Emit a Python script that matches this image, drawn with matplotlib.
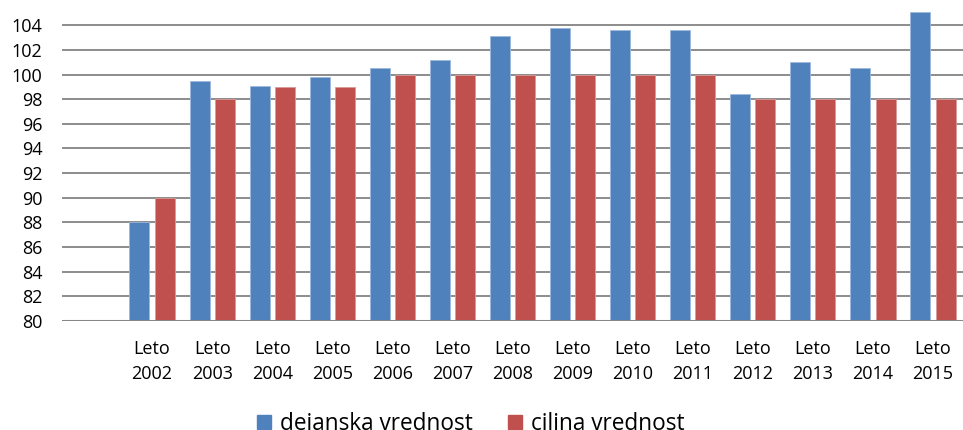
import matplotlib
matplotlib.use("Agg")
import matplotlib.pyplot as plt
from matplotlib.patches import Patch
import numpy as np

years = [2002, 2003, 2004, 2005, 2006, 2007, 2008, 2009, 2010, 2011, 2012, 2013, 2014, 2015]
dejanska = [88.0, 99.5, 99.1, 99.8, 100.5, 101.2, 103.1, 103.8, 103.6, 103.6, 98.4, 101.0, 100.5, 105.1]
ciljna = [90, 98, 99, 99, 100, 100, 100, 100, 100, 100, 98, 98, 98, 98]
tick_labels = [f"Leto\n{y}" for y in years]
series_names = ["dejanska vrednost", "ciljna vrednost"]

BLUE = "#4F81BD"
RED = "#C0504D"
GRID = "#8C8C8C"

plt.rcParams["font.family"] = ["Open Sans", "DejaVu Sans"]

W, H = 963, 430
fig = plt.figure(figsize=(W / 100, H / 100), dpi=100)
left, right = 62, 963
bottom_px, top_px = 321, 0.6
ax = fig.add_axes([left / W, (H - bottom_px) / H, (right - left) / W, (bottom_px - top_px) / H])

x = np.arange(len(years))
bw = 0.333
off = 0.21
ax.bar(x - off, np.array(dejanska) - 80, bw, bottom=80, color=BLUE,
       edgecolor="#9DB9DC", linewidth=0.6, zorder=3)
ax.bar(x + off, np.array(ciljna) - 80, bw, bottom=80, color=RED,
       edgecolor="#DA9A98", linewidth=0.6, zorder=3)

ax.set_xlim(-1.5, len(years) - 0.5)
ax.set_ylim(80, 106)
yt = np.arange(80, 105, 2)
ax.set_yticks(yt)
ax.set_yticklabels([str(v) for v in yt])
for v in yt[1:]:
    ax.axhline(v, color=GRID, linewidth=1.4, zorder=1)
ax.axhline(80, color="#878787", linewidth=2.2, zorder=4)

ax.set_xticks(x)
ax.set_xticklabels(tick_labels, linespacing=1.45)
for s in ax.spines.values():
    s.set_visible(False)
ax.tick_params(axis="both", length=0, labelsize=13, colors="black")
ax.tick_params(axis="y", pad=14)
ax.tick_params(axis="x", pad=14)

handles = [Patch(facecolor=BLUE, edgecolor=BLUE), Patch(facecolor=RED, edgecolor=RED)]
fig.legend(handles, series_names, loc="center", bbox_to_anchor=(471 / W, 1 - 424 / H),
           ncol=2, frameon=False, fontsize=16.3, handlelength=0.62, handleheight=0.62,
           handletextpad=0.4, columnspacing=1.55, borderpad=0)

fig.savefig("out.png", dpi=100)
